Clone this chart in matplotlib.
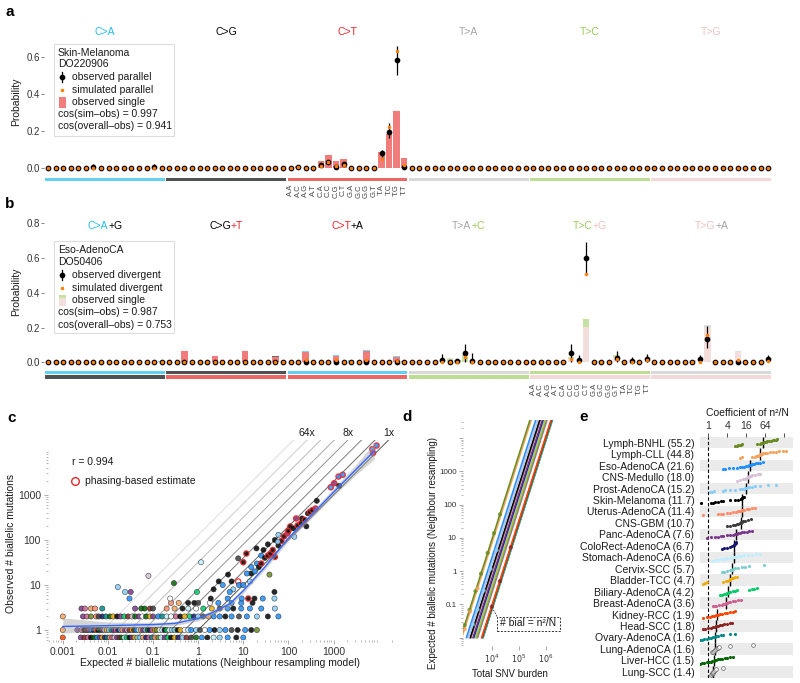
import numpy as np
import matplotlib
matplotlib.use('Agg')
import matplotlib.pyplot as plt
from matplotlib.patches import Rectangle
from matplotlib.lines import Line2D
from matplotlib import transforms
from matplotlib.ticker import FixedLocator, NullLocator

plt.rcParams['font.family'] = ['Liberation Sans', 'DejaVu Sans']
plt.rcParams['font.size'] = 7.5

# ---------------- data ----------------
# panels a / b : 96 trinucleotide channels
five = list('AAAACCCCGGGGTTTT')
three = list('ACGTACGTACGTACGT')

a_titles = ['C>A', 'C>G', 'C>T', 'T>A', 'T>C', 'T>G']
title_cols = ['#22BCEE', '#000000', '#E8262A', '#A5A5A5', '#98CB5C', '#EBC3C1']
block_cols = ['#1EBFF0', '#050708', '#E62725', '#CBCACB', '#A1CF64', '#EDC8C5']

a_bar_idx = [33, 36, 37, 38, 39, 44, 45, 46, 47]
a_bar_val = [0.008, 0.036, 0.068, 0.038, 0.045, 0.086, 0.18, 0.306, 0.054]
a_obs_idx = [6, 14, 33, 36, 37, 38, 39, 44, 45, 46, 47]
a_obs_val = [0.004, 0.004, 0.003, 0.015, 0.032, 0.005, 0.018, 0.078, 0.195, 0.58, 0.006]
a_err_idx = [6, 14, 44, 45, 46]
a_err_lo = [0.0, 0.0, 0.06, 0.16, 0.50]
a_err_hi = [0.018, 0.022, 0.095, 0.24, 0.66]
a_sim_idx = [33, 36, 37, 38, 39, 44, 45, 46, 47]
a_sim_val = [0.005, 0.012, 0.03, 0.008, 0.015, 0.045, 0.22, 0.63, 0.015]

# b: title parts, strip colours (top / bottom row)
b_titles = [[('C>A', '#22BCEE'), ('+G', '#000000')],
            [('C>G', '#000000'), ('+T', '#E8262A')],
            [('C>T', '#E8262A'), ('+A', '#000000')],
            [('T>A', '#A5A5A5'), ('+C', '#98CB5C')],
            [('T>C', '#98CB5C'), ('+G', '#EBC3C1')],
            [('T>G', '#EBC3C1'), ('+A', '#A5A5A5')]]
b_top_cols = ['#1EBFF0', '#050708', '#1EBFF0', '#CBCACB', '#A1CF64', '#CBCACB']
b_bot_cols = ['#050708', '#E62725', '#E62725', '#A1CF64', '#EDC8C5', '#EDC8C5']

b_bar_idx = [15, 18, 22, 26, 30, 34, 38, 40, 42, 46, 47, 53, 54, 55, 67, 69, 71, 73, 75, 76, 83, 85, 87, 91]
b_bar_main = [0.0, 0.063, 0.036, 0.063, 0.033, 0.06, 0.035, 0.003, 0.063, 0.03, 0.0, 0.02, 0.012,
              0.042, 0.012, 0.02, 0.205, 0.0, 0.03, 0.0, 0.01, 0.008, 0.2, 0.06]
b_bar_top = [0.006, 0.003, 0.002, 0.003, 0.002, 0.007, 0.007, 0.008, 0.007, 0.008, 0.005, 0.004, 0.003,
             0.004, 0.004, 0.01, 0.042, 0.005, 0.01, 0.005, 0.004, 0.005, 0.012, 0.005]
b_obs_idx = [52, 54, 55, 56, 69, 70, 71, 75, 77, 79, 86, 87, 95]
b_obs_val = [0.013, 0.01, 0.052, 0.01, 0.052, 0.015, 0.60, 0.025, 0.01, 0.02, 0.02, 0.134, 0.02]
b_err_idx = [52, 55, 56, 69, 70, 71, 75, 77, 79, 86, 87, 95]
b_err_lo = [0.0, 0.0, 0.0, 0.0, 0.0, 0.51, 0.0, 0.0, 0.0, 0.0, 0.08, 0.0]
b_err_hi = [0.05, 0.104, 0.055, 0.105, 0.04, 0.69, 0.067, 0.03, 0.045, 0.04, 0.21, 0.04]
b_sim_idx = [34, 38, 42, 46, 55, 69, 71, 75, 79, 87, 91, 95]
b_sim_val = [0.012, 0.012, 0.012, 0.01, 0.03, 0.02, 0.51, 0.02, 0.015, 0.157, 0.015, 0.01]

# cancer types (panels c, d, e)
types = ['Lymph-BNHL', 'Lymph-CLL', 'Eso-AdenoCA', 'CNS-Medullo', 'Prost-AdenoCA', 'Skin-Melanoma',
         'Uterus-AdenoCA', 'CNS-GBM', 'Panc-AdenoCA', 'ColoRect-AdenoCA', 'Stomach-AdenoCA',
         'Cervix-SCC', 'Bladder-TCC', 'Biliary-AdenoCA', 'Breast-AdenoCA', 'Kidney-RCC', 'Head-SCC',
         'Ovary-AdenoCA', 'Lung-AdenoCA', 'Liver-HCC', 'Lung-SCC']
coefs = [55.2, 44.8, 21.6, 18.0, 15.2, 11.7, 11.4, 10.7, 7.6, 6.7, 6.6, 5.7, 4.7, 4.2, 3.6,
         1.9, 1.8, 1.6, 1.6, 1.5, 1.4]
type_cols = ['#698B22', '#F4A35D', '#1E90FF', '#D8BFD8', '#87CEFA', '#000000', '#FF8C69', '#3D3D3D',
             '#7A378B', '#191970', '#BFEFFF', '#79CDCD', '#EEAD0E', '#00CD66', '#CD6090', '#FF4500',
             '#8B2323', '#008B8B', '#FFFFFF', '#006400', '#FFFFFF']

# c: observed vs expected biallelic
c1_x = [0.001, 0.0021, 0.0026, 0.003, 0.0034, 0.0038, 0.0043, 0.0048, 0.0054, 0.006, 0.0067, 0.0075,
        0.0084, 0.0094, 0.0105, 0.012, 0.0135, 0.015, 0.017, 0.019, 0.021, 0.024, 0.027, 0.03, 0.034,
        0.038, 0.043, 0.048, 0.054, 0.06, 0.068, 0.076, 0.085, 0.095, 0.11, 0.12, 0.14, 0.16, 0.18, 0.2,
        0.23, 0.26, 0.3, 0.35, 0.4, 0.5, 0.6, 0.7, 0.9, 1.1, 1.4, 1.8, 2.3, 3, 4, 5.5, 7.5, 11, 15, 20]
c1_t = [1, 8, 14, 5, 16, 8, 2, 9, 15, 5, 19, 8, 3, 12, 4, 17, 8, 14, 9, 11, 6, 8, 3, 16, 12, 7, 2, 10,
        1, 8, 4, 19, 9, 14, 12, 0, 18, 10, 5, 13, 20, 4, 11, 5, 12, 18, 10, 2, 4, 7, 18, 2, 5, 4, 2, 7,
        5, 2, 5, 0]
c2_x = [0.001, 0.0028, 0.0034, 0.0042, 0.0055, 0.0062, 0.0075, 0.009, 0.011, 0.013, 0.016, 0.019,
        0.023, 0.028, 0.034, 0.04, 0.048, 0.058, 0.07, 0.085, 0.1, 0.13, 0.16, 0.2, 0.25, 0.32, 0.4,
        0.5, 0.65, 0.8, 1.0, 1.3, 1.7, 2.2, 3, 4, 5.5, 8, 12, 20, 35, 60]
c2_t = [1, 8, 14, 0, 6, 7, 9, 17, 19, 12, 5, 8, 13, 16, 3, 19, 8, 18, 19, 12, 8, 2, 17, 10, 18, 14, 5,
        12, 13, 9, 4, 7, 1, 2, 2, 5, 2, 7, 2, 4, 5, 2]
c0_x = [0.001, 0.0025, 0.003, 0.0036, 0.0042, 0.005, 0.0058, 0.0066, 0.0075, 0.0085, 0.0097, 0.011,
        0.0125, 0.014, 0.016, 0.018, 0.02, 0.023, 0.026, 0.03, 0.034, 0.039, 0.045, 0.052, 0.06, 0.07,
        0.08, 0.095, 0.11, 0.13, 0.15, 0.18, 0.21, 0.25, 0.3, 0.36, 0.45, 0.55, 0.7, 0.9, 1.2, 1.6,
        2.2, 3, 4.5, 7, 10]
c0_t = [15, 8, 16, 14, 5, 19, 2, 8, 12, 9, 17, 6, 14, 3, 8, 16, 19, 10, 13, 5, 8, 12, 11, 4, 1, 9,
        14, 17, 6, 0, 10, 8, 13, 5, 12, 9, 4, 16, 7, 19, 2, 5, 10, 4, 2, 5, 2]
cs_x = [0.0026, 0.0031, 0.0042, 0.0052, 0.0075, 0.04, 0.055, 0.065, 0.085, 0.1, 0.2, 0.3, 0.45, 0.6,
        0.9, 1.3, 2.0, 3.0, 4.5, 6, 9, 14, 25, 50,
        0.25, 0.37, 0.6, 0.82, 1.0, 1.83, 2.8, 5.5, 9, 16,
        0.03, 0.24, 1.9, 4.5, 12.9, 17.7, 27, 49, 9.2,
        2.85, 4.6, 5.5, 7.7, 7.7, 10, 11.7, 15, 19.6, 50,
        20, 25, 15, 12, 8, 6, 10, 14, 18, 30,
        22, 25, 35, 40, 45, 60, 70, 80, 95, 100,
        110, 130, 160, 148, 190, 200, 230, 270, 300, 340,
        400, 425, 870, 1035, 1290, 1330, 1600, 7200, 7500, 9000,
        135, 58, 60, 50, 38, 49, 28, 35, 250,
        0.0166, 0.024, 0.032, 0.079, 1.16, 0.29, 0.94, 2.2, 3.5, 5]
cs_y = [3] * 24 + [4] * 10 + [5] * 9 + \
       [12, 17, 12, 12, 39, 32, 50, 18, 65, 100,
        30, 45, 25, 18, 10, 8, 10, 12, 20, 40,
        25, 30, 45, 50, 60, 75, 95, 120, 140, 160,
        200, 180, 210, 300, 235, 300, 280, 390, 420, 460,
        500, 740, 1480, 1820, 2560, 1600, 2800, 10400, 8500, 12500,
        118, 92, 130, 42, 17, 7, 60, 80, 200,
        9, 7, 7, 16, 32, 11, 7, 8, 10, 7]
cs_t = [8, 14, 1, 6, 17, 8, 19, 19, 16, 7, 6, 1, 5, 10, 18, 13, 12, 7, 2, 5, 2, 2, 2, 4,
        6, 1, 5, 5, 7, 18, 2, 2, 2, 5,
        2, 18, 5, 2, 5, 5, 2, 4, 2,
        5, 5, 5, 18, 7, 5, 5, 5, 5, 5,
        2, 2, 2, 2, 2, 4, 2, 4, 2, 5,
        5, 5, 5, 5, 5, 5, 5, 5, 8, 5,
        5, 5, 5, 8, 5, 5, 5, 5, 5, 5,
        8, 5, 2, 8, 2, 5, 2, 2, 8, 2,
        4, 4, 4, 5, 0, 5, 5, 5, 5,
        4, 4, 8, 3, 10, 19, 13, 5, 2, 2]
cs_ph = [0] * 24 + [0] * 10 + [0, 0, 0, 0, 1, 0, 0, 0, 0] + \
        [0, 0, 0, 1, 0, 1, 1, 0, 0, 0,
         0, 0, 0, 0, 0, 0, 0, 0, 0, 0,
         0, 1, 1, 1, 1, 0, 1, 1, 1, 1,
         1, 0, 1, 1, 1, 0, 1, 0, 1, 1,
         1, 0, 1, 1, 1, 0, 1, 1, 1, 1,
         0, 0, 0, 1, 0, 0, 0, 0, 0,
         0, 0, 0, 0, 0, 0, 0, 0, 0, 0]
loess_x = [0.001, 0.01, 0.1, 0.3, 1, 2, 5, 10, 30, 100, 300, 1000, 3000, 8000]
loess_y = [1.2, 1.25, 1.32, 1.4, 1.8, 2.4, 3.8, 7.5, 25, 110, 330, 1150, 3500, 9500]
loess_lo = [0.85, 1.05, 1.18, 1.25, 1.6, 2.15, 3.3, 6.6, 22, 95, 280, 950, 2700, 6300]
loess_hi = [1.85, 1.5, 1.48, 1.55, 2.0, 2.7, 4.3, 8.5, 28, 125, 390, 1400, 4500, 14500]
fold_k = [1, 2, 4, 8, 16, 32, 64, 128]
fold_cols = ['#555555', '#6A6A6A', '#7F7F7F', '#949494', '#A8A8A8', '#BCBCBC', '#CDCDCD', '#DDDDDD']
fold_lab = ['1x', '8x', '64x']

# d: fitted lines (burden at y=0.01 and y=1e5) and dots
d_xlo = [710, 790, 1160, 1280, 1400, 1610, 1630, 1690, 2020, 2160, 2180, 2360, 2610, 2770, 3010,
         4210, 4340, 4620, 4620, 4780, 4960]
d_xhi = [3.8e5, 4.25e5, 6.2e5, 6.9e5, 7.5e5, 8.7e5, 8.8e5, 9.1e5, 1.08e6, 1.16e6, 1.17e6, 1.27e6,
         1.40e6, 1.49e6, 1.62e6, 2.26e6, 2.33e6, 2.48e6, 2.48e6, 2.56e6, 2.66e6]
d_dot_x = [1000, 1500, 2500, 4000, 7000, 12000, 20000, 1000, 1600, 3000,
           2000, 3000, 5000, 9000, 15000, 10000, 20000, 50000]
d_dot_y = [0.024, 0.068, 0.25, 0.84, 3.5, 13.9, 51, 0.018, 0.061, 0.30,
           0.025, 0.07, 0.26, 1.17, 4.3, 0.085, 0.5, 5.2]
d_dot_t = [0, 0, 0, 0, 0, 0, 0, 1, 1, 1, 4, 4, 4, 4, 4, 16, 16, 16]

# e: per-sample coefficients
e_vals = [
    [7, 8, 9, 10, 11, 12, 35, 42, 48, 52, 55, 58, 62, 68, 75, 85, 95, 110, 125, 140, 155],
    [10, 12, 25, 30, 33, 36, 38, 40, 42, 44, 45, 47, 50, 55, 62, 75, 90, 110, 140, 180, 230, 290],
    [3, 3.5, 4.5, 6, 8, 10, 12, 14, 16, 18, 20, 21, 22, 24, 26, 28, 32, 38, 45, 55],
    [8, 10, 13, 15, 16, 17, 18, 19, 20, 22, 25, 30, 38, 45],
    [1.1, 1.3, 1.5, 3, 3.5, 5, 7, 10, 12, 14, 15, 16, 18, 20, 24, 30, 45, 80, 140],
    [0.6, 1.2, 1.4, 1.6, 2, 2.5, 3, 5, 7, 9, 10.5, 11, 11.5, 12, 12.5, 13, 14],
    [0.7, 2, 2.5, 3, 4, 5, 6, 7.5, 9, 10, 11, 12, 14, 17, 20, 25, 30],
    [4, 5, 6, 7, 8, 9, 10, 10.5, 11, 12, 13, 15, 18, 22],
    [0.9, 1.2, 1.6, 2, 2.5, 3, 4, 5, 6, 7, 7.5, 8, 9, 10, 12, 14, 17, 20, 24],
    [2.7, 3.2, 4, 5, 5.8, 6.3, 6.7, 7, 7.3, 7.7],
    [1.3, 1.6, 2, 2.5, 3, 3.5, 4, 5, 6, 6.6, 7.5, 9, 11, 14, 18, 24, 32, 43],
    [2.7, 3.2, 4, 5, 5.5, 6, 7, 9, 12, 15, 20, 60],
    [0.7, 0.8, 0.9, 3, 3.6, 4, 4.4, 4.7, 5, 5.5, 6, 7, 8],
    [2.3, 2.8, 3.2, 3.6, 4, 4.2, 4.5, 5, 6, 7, 8, 20, 24, 28, 35],
    [1.4, 1.6, 1.8, 2.2, 2.7, 3, 3.3, 3.6, 4, 4.5, 5, 6, 7, 8.5, 11],
    [0.7, 0.9, 1.1, 1.3, 1.5, 1.7, 1.9, 2.1, 2.4, 2.8, 3.3, 4, 5, 6, 7],
    [0.7, 0.8, 1, 1.2, 1.4, 1.6, 1.8, 2, 2.3, 2.7, 3.2, 4, 5, 5.6],
    [0.45, 0.55, 0.65, 0.75, 0.9, 1.05, 1.2, 1.4, 1.6, 1.8, 2.1, 2.5, 3, 5, 7],
    [1.3, 1.45, 1.55, 1.6, 1.7, 1.85, 2, 2.2, 4.9, 26],
    [0.55, 0.65, 0.75, 0.9, 1.05, 1.2, 1.35, 1.5, 1.65, 1.8, 2, 2.3, 2.7, 3.3, 4, 5, 6],
    [1.2, 1.3, 1.35, 1.4, 1.45, 1.5, 1.6, 1.8, 3],
]

# ---------------- figure ----------------
W, H = 800, 683
fig = plt.figure(figsize=(8, 6.83), dpi=100)
ORANGE = '#FF7F00'
TXT = '#1A1A1A'


def box(x0, y0, x1, y1):
    return [x0 / W, 1 - y1 / H, (x1 - x0) / W, (y1 - y0) / H]


def fx(x):
    return x / W


def fy(y):
    return 1 - y / H


def ftext(x, y, s, **kw):
    kw.setdefault('color', TXT)
    return fig.text(fx(x), fy(y), s, **kw)


def fdot(x, y, **kw):
    fig.add_artist(Line2D([fx(x)], [fy(y)], transform=fig.transFigure, ls='none', **kw))


def full(idx, val):
    arr = np.zeros(96)
    arr[idx] = val
    return arr


def spectrum_axes(rect, ymax, yticks):
    ax = fig.add_axes(rect)
    ax.set_xlim(-0.5, 95.5)
    ax.set_ylim(-0.015, ymax)
    for s in ax.spines.values():
        s.set_visible(False)
    ax.set_xticks([])
    ax.set_yticks(yticks)
    ax.set_yticklabels(['%.1f' % v for v in yticks])
    ax.tick_params(axis='y', length=2, width=0.5, color='#555555', labelsize=7,
                   labelcolor='#333333', pad=1)
    return ax


def context_labels(ax, start, y):
    for i in range(16):
        ax.text(start + i, y, five[i] + '.' + three[i], rotation=90, ha='center', va='top',
                fontsize=5.5, color='#444444', clip_on=False)


def points(ax, obs, sim, err_idx, err_lo, err_hi):
    ax.vlines(err_idx, err_lo, err_hi, color='k', lw=0.9, zorder=3)
    ax.plot(np.arange(96), obs, 'o', ms=3.1, color='k', zorder=4)
    ax.plot(np.arange(96), sim, 'o', ms=1.5, color=ORANGE, zorder=5)


renderer = fig.canvas.get_renderer()


def multi_color_text(ax, x, y, parts):
    texts = [ax.text(x, y, s, color=c, ha='left', va='center', fontsize=7.5, clip_on=False)
             for s, c in parts]
    widths = [t.get_window_extent(renderer=renderer).width for t in texts]
    off = -sum(widths) / 2
    for t, w in zip(texts, widths):
        t.set_transform(transforms.offset_copy(ax.transData, fig=fig, x=off, y=0, units='dots'))
        off += w


# ----- panel a -----
axa = spectrum_axes(box(44.2, 38.2, 771.9, 170.5), 0.7, [0, 0.2, 0.4, 0.6])
axa.bar(a_bar_idx, a_bar_val, width=0.85, color='#E62725', alpha=0.6, lw=0, zorder=1)
points(axa, full(a_obs_idx, a_obs_val), full(a_sim_idx, a_sim_val), a_err_idx, a_err_lo, a_err_hi)
for k in range(6):
    axa.add_patch(Rectangle((16 * k - 0.4, -0.072), 15.8, 0.016, color=block_cols[k], alpha=0.7,
                            lw=0, clip_on=False))
    axa.text(16 * k + 7.5, 0.733, a_titles[k], color=title_cols[k], ha='center', va='center',
             fontsize=7.5, clip_on=False)
context_labels(axa, 32, -0.088)

# ----- panel b -----
axb = spectrum_axes(box(44.2, 219.8, 771.9, 364.9), 0.82, [0, 0.2, 0.4, 0.6, 0.8])
for i, m, t in zip(b_bar_idx, b_bar_main, b_bar_top):
    k = i // 16
    axb.bar(i, m, width=0.85, color=b_bot_cols[k], alpha=0.6, lw=0, zorder=1)
    axb.bar(i, t, bottom=m, width=0.85, color=b_top_cols[k], alpha=0.6, lw=0, zorder=1)
points(axb, full(b_obs_idx, b_obs_val), full(b_sim_idx, b_sim_val), b_err_idx, b_err_lo, b_err_hi)
for k in range(6):
    axb.add_patch(Rectangle((16 * k - 0.4, -0.069), 15.8, 0.021, color=b_top_cols[k], alpha=0.7,
                            lw=0, clip_on=False))
    axb.add_patch(Rectangle((16 * k - 0.4, -0.097), 15.8, 0.026, color=b_bot_cols[k], alpha=0.7,
                            lw=0, clip_on=False))
    multi_color_text(axb, 16 * k + 7.5, 0.784, b_titles[k])
context_labels(axb, 64, -0.118)

ftext(16, 102, 'Probability', rotation=90, ha='center', va='center')
ftext(16, 292, 'Probability', rotation=90, ha='center', va='center')


def legend_box(y0, y1, ys, name, sample, l1, l2, l3, cos1, cos2, single_cols):
    fig.add_artist(Rectangle((fx(54), fy(y1)), (174 - 54) / W, (y1 - y0) / H,
                             transform=fig.transFigure, fc='white', ec='#DDDDDD', lw=0.8))
    ftext(58, ys[0], name, va='center')
    ftext(58, ys[1], sample, va='center')
    fig.add_artist(Line2D([fx(62), fx(62)], [fy(ys[2] - 5), fy(ys[2] + 5)], color='k', lw=0.9,
                          transform=fig.transFigure))
    fdot(62, ys[2], marker='o', ms=3.1, color='k')
    ftext(72, ys[2], l1, va='center')
    fdot(62, ys[3], marker='o', ms=1.5, color=ORANGE)
    ftext(72, ys[3], l2, va='center')
    if len(single_cols) == 1:
        fig.add_artist(Rectangle((fx(58.5), fy(ys[4] + 5.5)), 7 / W, 11 / H, transform=fig.transFigure,
                                 color=single_cols[0], alpha=0.6, lw=0))
    else:
        fig.add_artist(Rectangle((fx(58.5), fy(ys[4] + 5.5)), 7 / W, 8 / H, transform=fig.transFigure,
                                 color=single_cols[0], alpha=0.6, lw=0))
        fig.add_artist(Rectangle((fx(58.5), fy(ys[4] - 2.5)), 7 / W, 3 / H, transform=fig.transFigure,
                                 color=single_cols[1], alpha=0.6, lw=0))
    ftext(72, ys[4], l3, va='center')
    ftext(58, ys[5], cos1, va='center')
    ftext(58, ys[6], cos2, va='center')


legend_box(44, 136, [52.7, 64, 77, 89.7, 102, 114, 126], 'Skin-Melanoma', 'DO220906',
           'observed parallel', 'simulated parallel', 'observed single',
           'cos(sim\u2013obs) = 0.997', 'cos(overall\u2013obs) = 0.941', ['#E62725'])
legend_box(241, 333, [250, 262.3, 275.3, 287.7, 300, 312.3, 324.7], 'Eso-AdenoCA', 'DO50406',
           'observed divergent', 'simulated divergent', 'observed single',
           'cos(sim\u2013obs) = 0.987', 'cos(overall\u2013obs) = 0.753', ['#EDC8C5', '#A1CF64'])

# ----- panel c -----
axc = fig.add_axes(box(48, 440, 395, 640))
axc.set_xscale('log')
axc.set_yscale('log')
axc.set_xlim(4.7e-4, 2.3e4)
axc.set_ylim(0.6, 16600)
for s in axc.spines.values():
    s.set_visible(False)
for k, col in zip(fold_k, fold_cols):
    axc.plot([1e-4, 1e5], [k * 1e-4, k * 1e5], color=col, lw=0.7, zorder=1)
for lab in fold_lab:
    k = float(lab[:-1])
    axc.text(16600 / k, 24000, lab, ha='center', va='center', fontsize=7.5, color=TXT, clip_on=False)


def cscatter(xs, ys, ts, ph):
    fc = [type_cols[t] for t in ts]
    ec = ['#E8262A' if p else '#222222' for p in ph]
    lw = [1.0 if p else 0.4 for p in ph]
    axc.scatter(xs, ys, s=14, c=fc, edgecolors=ec, linewidths=lw, alpha=0.85, zorder=3)


cscatter(c0_x, [0.68] * len(c0_x), c0_t, [0] * len(c0_x))
cscatter(c1_x, [1] * len(c1_x), c1_t, [0] * len(c1_x))
cscatter(c2_x, [2] * len(c2_x), c2_t, [0] * len(c2_x))
cscatter(cs_x, cs_y, cs_t, cs_ph)
axc.fill_between(loess_x, loess_lo, loess_hi, color='#A0A0A0', alpha=0.45, lw=0, zorder=4)
axc.plot(loess_x, loess_y, color='#3366FF', lw=1, zorder=5)

axc.xaxis.set_major_locator(FixedLocator([1e-3, 1e-2, 1e-1, 1, 10, 100, 1000]))
axc.set_xticklabels(['0.001', '0.01', '0.1', '1', '10', '100', '1000'])
axc.yaxis.set_major_locator(FixedLocator([1, 10, 100, 1000]))
axc.set_yticklabels(['1', '10', '100', '1000'])
axc.tick_params(which='major', length=3, width=0.5, color='#888888', labelsize=7.5,
                labelcolor='#333333', pad=2)
axc.tick_params(which='minor', length=1.5, width=0.5, color='#999999')
ftext(220, 663, 'Expected # biallelic mutations (Neighbour resampling model)', ha='center',
      va='center')
ftext(11, 543, 'Observed # biallelic mutations', rotation=90, ha='center', va='center')
ftext(72, 462, 'r = 0.994', va='center')
fdot(75, 481, marker='o', ms=5.5, mfc='none', mec='#E8262A', mew=1)
ftext(85, 481, 'phasing-based estimate', va='center')

# ----- panel d -----
axd = fig.add_axes(box(463, 420, 557, 646))
axd.set_xscale('log')
axd.set_yscale('log')
axd.set_xlim(870, 2.5e6)
axd.set_ylim(0.0056, 35000)
for s in axd.spines.values():
    s.set_visible(False)
for t in range(len(types) - 1, -1, -1):
    axd.plot([d_xlo[t], d_xhi[t]], [0.01, 1e5], color=type_cols[t], lw=1.1, zorder=2)
axd.scatter(d_dot_x, d_dot_y, s=9, c=[type_cols[t] for t in d_dot_t], alpha=0.8, lw=0, zorder=3)
axd.xaxis.set_major_locator(FixedLocator([1e4, 1e5, 1e6]))
axd.set_xticklabels(['$10^4$', '$10^5$', '$10^6$'])
axd.yaxis.set_major_locator(FixedLocator([0.01, 0.1, 1, 10, 100, 1000, 10000]))
axd.set_yticklabels(['', '0.1', '1', '10', '100', '1000', ''])
axd.tick_params(which='major', length=3, width=0.5, color='#888888', labelsize=5.8,
                labelcolor='#333333', pad=1.5)
axd.tick_params(which='minor', length=1.5, width=0.5, color='#999999')
ftext(510, 674, 'Total SNV burden', ha='center', va='center', fontsize=7)
ftext(433, 553, 'Expected # biallelic mutations (Neighbour resampling)', rotation=90, ha='center',
      va='center', fontsize=7)
fig.add_artist(Rectangle((fx(497), fy(630.5)), 63 / W, 14 / H, transform=fig.transFigure,
                         fc='white', ec='#333333', lw=0.7, ls=(0, (2, 1.5))))
ftext(528.5, 623.5, '# bial = n\u00b2/N', ha='center', va='center')
fig.add_artist(Line2D([fx(497), fx(493)], [fy(616.5), fy(609)], color='#333333', lw=0.6,
                      ls=(0, (2, 1.5)), transform=fig.transFigure))

# ----- panel e -----
axe = fig.add_axes(box(700, 437, 793, 677.5))
axe.set_xscale('log', base=2)
axe.set_xlim(0.545, 484)
axe.set_ylim(20.5, -0.5)
for s in axe.spines.values():
    s.set_visible(False)
for i in range(0, 21, 2):
    axe.axhspan(i - 0.5, i + 0.5, color='#EBEBEB', lw=0, zorder=0)
axe.axvline(1, color='k', lw=0.8, ls=(0, (3, 2)), zorder=1)
rows = np.arange(21)
axe.vlines(coefs, rows - 0.5, rows + 0.5, color='k', lw=1.0, zorder=2)
for i, vals in enumerate(e_vals):
    v = np.sort(vals)
    n = len(v)
    yy = i + 0.3 - 0.6 * np.arange(n) / (n - 1)
    if types[i].startswith('Lung'):
        axe.scatter(v, yy, s=7, c='white', edgecolors='#444444', linewidths=0.4, zorder=3)
    else:
        axe.scatter(v, yy, s=5, c=type_cols[i], lw=0, zorder=3)
axe.xaxis.set_ticks_position('top')
axe.xaxis.set_major_locator(FixedLocator([1, 4, 16, 64, 256]))
axe.set_xticklabels(['1', '4', '16', '64', ''])
axe.xaxis.set_minor_locator(NullLocator())
axe.set_yticks(rows)
axe.set_yticklabels(['%s (%.1f)' % (t, c) for t, c in zip(types, coefs)])
axe.tick_params(axis='y', length=0, pad=4, labelsize=7.5, labelcolor=TXT)
axe.tick_params(axis='x', length=3, width=0.6, color='#333333', pad=1, labelsize=7.5,
                labelcolor='#333333')
ftext(747, 413, 'Coefficient of n\u00b2/N', ha='center', va='center')

# panel letters
for lab, x, y in [('a', 10, 12), ('b', 10, 204), ('c', 12, 418), ('d', 407, 417), ('e', 584, 417)]:
    ftext(x, y, lab, fontsize=11, fontweight='bold', ha='center', va='center', color='k')

fig.savefig('out.png', dpi=100)
